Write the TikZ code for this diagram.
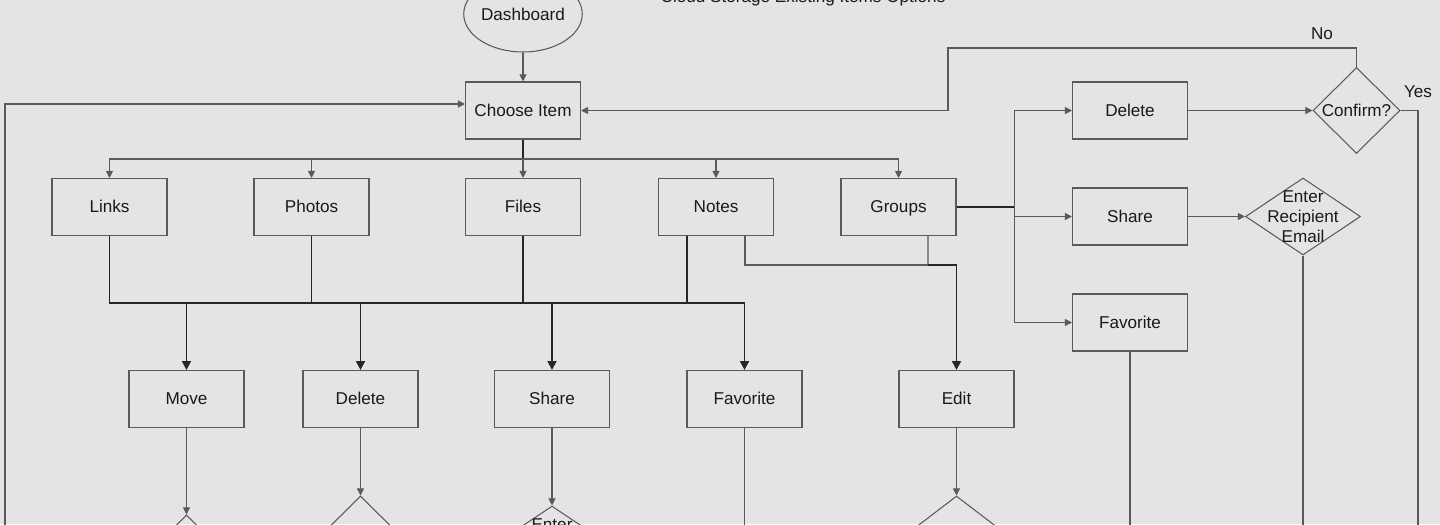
\documentclass[tikz,border=0pt]{standalone}
\usepackage{fontspec}
\setmainfont{Liberation Sans}
\usetikzlibrary{calc}
\usetikzlibrary{shapes.geometric}
\usetikzlibrary{arrows.meta}

\definecolor{bgcol}{HTML}{E4E4E4}
\definecolor{edgecol}{HTML}{5A5A5A}

\tikzset{
  box/.style={draw=edgecol, line width=0.6pt, minimum width=2.3cm, minimum height=1.14cm, inner sep=0pt, text height=1.6ex, text depth=0.4ex},
  decision/.style={draw=edgecol, line width=0.6pt, diamond, inner sep=0pt},
  plain/.style={draw=edgecol, line width=0.6pt},
  link/.style={plain, -{Triangle[length=4pt,width=4pt]}},
  bold/.style={draw=black!85, line width=1.1pt},
  boldlink/.style={bold, -{Triangle[length=5pt,width=5pt]}}
}

\begin{document}
\begin{tikzpicture}[x=0.02cm, y=-0.02cm, font=\fontsize{9.75pt}{11.3pt}\selectfont, text=black!90]
    \useasboundingbox (0,0) rectangle (1440,524);
    \fill[bgcol] (0,0) rectangle (1440,524);
    \clip (0,0) rectangle (1440,524);

    % top
    \node[draw=edgecol, line width=0.6pt, ellipse, minimum width=2.32cm, minimum height=1.52cm, inner sep=0pt] (dash) at (523,14) {Dashboard};
    \node[anchor=base] (title) at (803,3) {Cloud Storage Existing Items Options};
    \node[box] (choose) at (523,110.5) {Choose Item};

    % item types
    \node[box] (links) at (109.5,207) {Links};
    \node[box] (photos) at (311.5,207) {Photos};
    \node[box] (files) at (523,207) {Files};
    \node[box] (notes) at (716,207) {Notes};
    \node[box] (groups) at (898.5,207) {Groups};

    % actions
    \node[box] (move) at (186.5,399) {Move};
    \node[box] (del) at (360.5,399) {Delete};
    \node[box] (share) at (552,399) {Share};
    \node[box] (fav) at (744.5,399) {Favorite};
    \node[box] (edit) at (956.5,399) {Edit};

    % group actions
    \node[box] (gdel) at (1130,110.5) {Delete};
    \node[box] (gshare) at (1130,216.5) {Share};
    \node[box] (gfav) at (1130,322.5) {Favorite};
    \node[decision, minimum width=1.74cm, minimum height=1.72cm, label=center:{Confirm?}] (confirm) at (1356.5,110.5) {};
    \node[decision, minimum width=2.3cm, minimum height=1.54cm, label={[align=center]center:Enter\\Recipient\\Email}] (email) at (1303,216.5) {};
    \node (no) at (1322,34) {No};
    \node (yes) at (1418,92) {Yes};

    % checks below the actions
    \node[decision, minimum width=1.74cm, minimum height=1.72cm] (movechk) at (186.5,558) {};
    \node[decision, minimum width=1.74cm, minimum height=1.72cm] (delchk) at (360.5,539) {};
    \node[decision, minimum width=2.3cm, minimum height=1.54cm, label={[align=center]center:Enter\\Recipient\\Email}] (sharechk) at (552,544.5) {};
    \node[decision, minimum width=2.2cm, minimum height=1.68cm] (editchk) at (956.5,538) {};

    \coordinate (topbus) at (523,159);
    \coordinate (lowbus) at (109.5,303);
    \coordinate (lowend) at (744.5,303);
    \coordinate (join) at (928,265);
    \coordinate (gsplit) at (1014.5,207);
    \coordinate (noturn) at (948,48);
    \coordinate (loopend) at (5,560);
    \coordinate (yesend) at (1418,560);
    \coordinate (emailend) at (1303,560);
    \coordinate (gfavend) at (1130,560);
    \coordinate (favend) at (744.5,560);

    \draw[link] (dash) -- (choose);
    \draw[bold] (choose.south) -- (topbus);
    \foreach \n in {links,photos,files,notes,groups}
        \draw[link] (topbus) -| (\n.north);

    \draw[bold] (links.south) -- (lowbus) -- (lowend);
    \foreach \n in {photos,files}
        \draw[bold] (\n.south) -- (\n.south |- lowbus);
    \draw[bold] ([xshift=-0.58cm]notes.south) -- ([xshift=-0.58cm]notes.south |- lowbus);
    \foreach \n in {move,del,share,fav}
        \draw[boldlink] (\n.north |- lowbus) -- (\n.north);

    \draw[plain] ([xshift=0.58cm]notes.south) |- (join);
    \draw[plain] ([xshift=0.59cm]groups.south) -- (join);
    \draw[boldlink] (join) -| (edit.north);

    \draw[bold] (groups.east) -- (gsplit);
    \foreach \n in {gdel,gshare,gfav}
        \draw[link] (gsplit) |- (\n.west);
    \draw[link] (gdel) -- (confirm);
    \draw[link] (gshare) -- (email);
    \draw[link] (confirm.north) |- (noturn) |- (choose.east);
    \draw[plain] (confirm.east) -| (yesend);
    \draw[plain] (email.south) -- (emailend);
    \draw[plain] (gfav.south) -- (gfavend);
    \draw[plain] (fav.south) -- (favend);
    \draw[link] (loopend) |- ([yshift=0.13cm]choose.west);

    \draw[link] (move) -- (movechk);
    \draw[link] (del) -- (delchk);
    \draw[link] (share) -- (sharechk);
    \draw[link] (edit) -- (editchk);
\end{tikzpicture}
\end{document}
